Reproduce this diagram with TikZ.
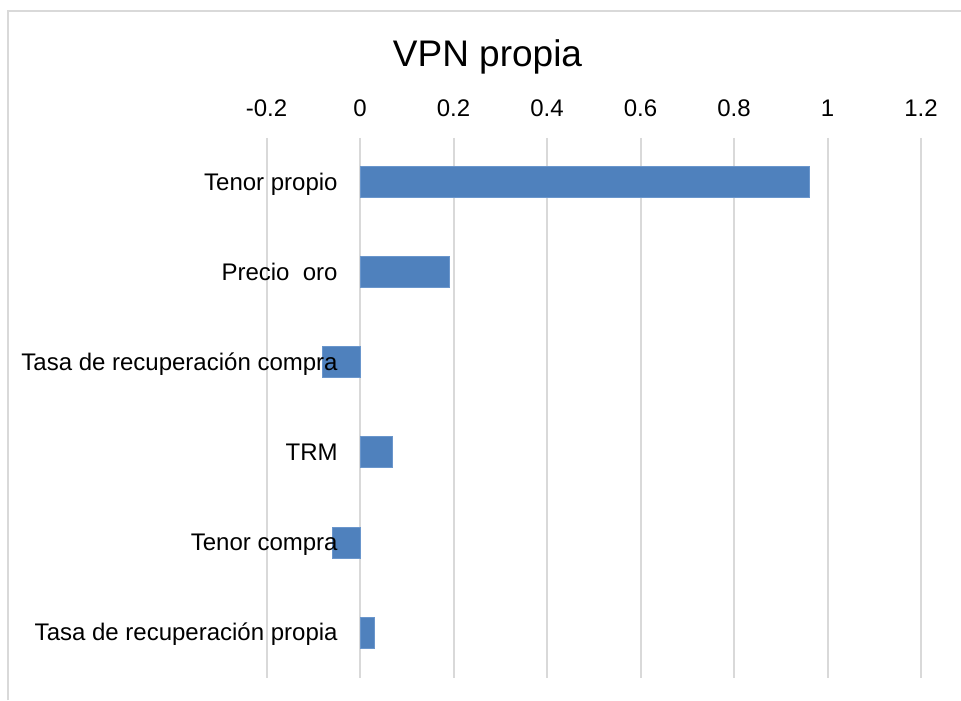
\documentclass[tikz,border=0pt]{standalone}
\usepackage{fontspec}
\setmainfont{Liberation Sans}
\definecolor{gridgray}{HTML}{D9D9D9}
\definecolor{barblue}{HTML}{4F81BD}
\definecolor{baredge}{HTML}{6A96CC}
\begin{document}
\begin{tikzpicture}[x=0.5pt,y=-0.5pt,
  gridline/.style={draw=gridgray,line width=1pt},
  framel/.style={draw=gridgray,line width=1pt},
  bar/.style={fill=barblue,draw=baredge,line width=0.3pt},
  ticklbl/.style={anchor=base,inner sep=0pt,font=\fontsize{12pt}{14pt}\selectfont},
  catlbl/.style={anchor=base east,inner sep=0pt,font=\fontsize{12pt}{14pt}\selectfont},
  titlelbl/.style={anchor=base,inner sep=0pt,font=\fontsize{18.5pt}{22pt}\selectfont}]
\useasboundingbox (0,0) rectangle (961,700);
\fill[white] (0,0) rectangle (961,700);
% frame
\draw[framel] (8,700) -- (8,11.5) -- (961,11.5);
% grid lines and ticks
\foreach \v/\t [count=\i] in {-0.2/-0.2,0/0,0.2/0.2,0.4/0.4,0.6/0.6,0.8/0.8,1/1,1.2/1.2}{
  \pgfmathsetmacro{\xx}{360+467.5*\v}
  \draw[gridline] (\xx,138) -- (\xx,678);
  \node[ticklbl] (tick\i) at (\xx,116.7) {\t};
}
% bars
\def\bh{15.5}
\foreach \v/\c [count=\i] in {0.96/182.2,0.19/272.2,-0.08/362,0.07/452,-0.06/542.5,0.03/632.5}{
  \pgfmathsetmacro{\xe}{360+467.5*\v}
  \draw[bar] (360,\c-\bh) rectangle (\xe,\c+\bh);
}
% labels
\node[catlbl] (l1) at (338,190.2) {Tenor propio};
\node[catlbl] (l2) at (338,280.2) {Precio~ oro};
\node[catlbl] (l3) at (338,370) {Tasa de recuperación compra};
\node[catlbl] (l4) at (338,460) {TRM};
\node[catlbl] (l5) at (338,550.5) {Tenor compra};
\node[catlbl] (l6) at (338,640.5) {Tasa de recuperación propia};
\node[titlelbl] (title) at (487.5,66.7) {VPN propia};
\end{tikzpicture}
\end{document}
